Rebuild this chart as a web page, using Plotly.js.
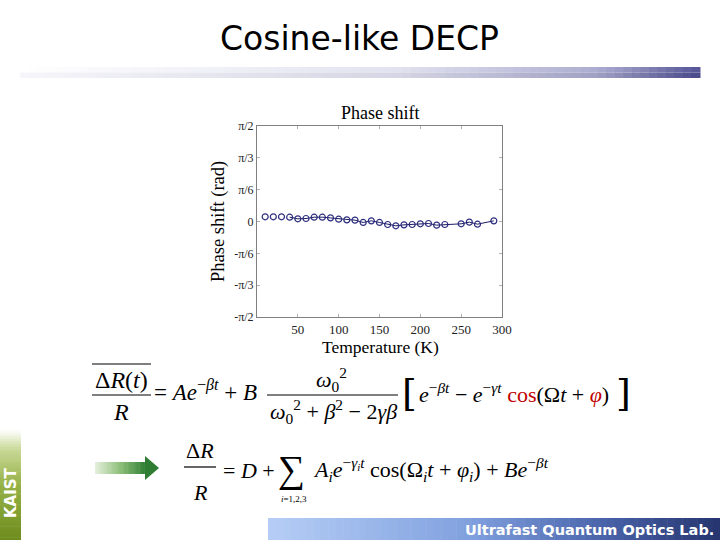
<!DOCTYPE html>
<html><head><meta charset="utf-8">
<script src="https://cdn.plot.ly/plotly-3.0.1.min.js"></script>
<style>html,body{margin:0;padding:0;background:#fff;}#chart{width:720px;height:540px;}</style>
</head><body><div id="chart"></div>
<script>
// ---- data ----
const temperatures = [10,20,30,40,50,60,70,80,90,100,110,120,130,140,150,160,170,180,190,200,210,220,230,250,260,270,290];
const phaseShift = [0.077,0.077,0.077,0.071,0.044,0.049,0.071,0.071,0.060,0.038,0.027,0.022,-0.016,0.011,-0.016,-0.049,-0.071,-0.055,-0.049,-0.038,-0.033,-0.060,-0.049,-0.038,-0.011,-0.044,0.011];
const lineTemperatures = [40,50,60,70,80,90,100,110,120,130,140,150,160,170,180,190,200,210,220,230,250,260,270,290];
const linePhaseShift = [0.071,0.044,0.049,0.071,0.071,0.060,0.038,0.027,0.022,-0.016,0.011,-0.016,-0.049,-0.071,-0.055,-0.049,-0.038,-0.033,-0.060,-0.049,-0.038,-0.011,-0.044,0.011];
const xTickValues = [50,100,150,200,250,300];
const xTickLabels = ['50','100','150','200','250','300'];
const yTickLabels = ['-π/2','-π/3','-π/6','0','π/6','π/3','π/2'];
const yTickValues = [-3,-2,-1,0,1,2,3].map(k => k*Math.PI/6);

// ---- geometry (pixels) ----
const L = 257, R = 502, T = 126, B = 317;
const W = R - L, H = B - T;
const X = p => (p - L) / W;
const Y = p => (B - p) / H;

const shapes = [];
const annotations = [];
function lerp(a,b,t){return Math.round(a+(b-a)*t);}
function grad(stops, t){
  for (let i=1;i<stops.length;i++){
    if (t <= stops[i][0]){
      const s0=stops[i-1], s1=stops[i];
      const u=(t-s0[0])/(s1[0]-s0[0]);
      return 'rgb('+lerp(s0[1][0],s1[1][0],u)+','+lerp(s0[1][1],s1[1][1],u)+','+lerp(s0[1][2],s1[1][2],u)+')';
    }
  }
  const s=stops[stops.length-1][1]; return 'rgb('+s.join(',')+')';
}
function rect(x0,y0,x1,y1,color){
  shapes.push({type:'rect',xref:'paper',yref:'paper',x0:X(x0),x1:X(x1),y0:Y(y1),y1:Y(y0),fillcolor:color,line:{width:0},layer:'below'});
}
function hline(x0,x1,y,color,w){
  shapes.push({type:'line',xref:'paper',yref:'paper',x0:X(x0),x1:X(x1),y0:Y(y),y1:Y(y),line:{color:color||'#000',width:w||1.2}});
}
function text(t,x,y,opt){
  opt = opt||{};
  annotations.push({text:t,xref:'paper',yref:'paper',x:X(x),y:Y(y),showarrow:false,
    xanchor:opt.xa||'center',yanchor:opt.ya||'middle',textangle:opt.angle||0,
    font:{family:opt.family||'Liberation Serif, serif',size:opt.size||20,color:opt.color||'#000',weight:opt.weight||'normal'}});
}

// title bar gradient
const barStops = [[0,[246,246,250]],[0.55,[214,214,228]],[0.85,[160,160,196]],[1,[72,72,138]]];
const barN = 80;
for (let i=0;i<barN;i++){
  const x0 = 20 + (700-20)*i/barN, x1 = 20 + (700-20)*(i+1)/barN + 0.5;
  const t = (i+0.5)/barN;
  rect(x0,67,x1,72.5,grad(barStops.map(s=>[s[0],s[1].map(v=>Math.min(255,v+12))]),t));
  rect(x0,72.5,x1,78,grad(barStops,t));
}
// footer gradient
const footStops = [[0,[182,206,246]],[0.45,[128,160,222]],[0.75,[72,98,168]],[1,[38,52,110]]];
const footN = 60;
for (let i=0;i<footN;i++){
  const x0 = 268 + (720-268)*i/footN, x1 = 268 + (720-268)*(i+1)/footN + 0.5;
  rect(x0,518,x1,540,grad(footStops,(i+0.5)/footN));
}
// KAIST side gradient
const sideStops = [[0,[255,255,255]],[0.18,[200,216,150]],[0.5,[150,178,70]],[1,[110,140,30]]];
const sideN = 40;
for (let i=0;i<sideN;i++){
  const y0 = 430 + (540-430)*i/sideN, y1 = 430 + (540-430)*(i+1)/sideN + 0.5;
  rect(0,y0,21,y1,grad(sideStops,(i+0.5)/sideN));
}
// green arrow
const arrowStops = [[0,[230,240,222]],[0.5,[140,190,120]],[1,[46,125,50]]];
const arrN = 30;
for (let i=0;i<arrN;i++){
  const x0 = 95 + (146-95)*i/arrN, x1 = 95 + (146-95)*(i+1)/arrN + 0.5;
  rect(x0,462,x1,474,grad(arrowStops,(i+0.5)/arrN));
}
shapes.push({type:'path',xref:'paper',yref:'paper',
  path:'M '+X(145)+' '+Y(456)+' L '+X(159)+' '+Y(468)+' L '+X(145)+' '+Y(480)+' Z',
  fillcolor:'rgb(46,125,50)',line:{width:0}});

// slide title
text('Cosine-like DECP',359,39,{family:'DejaVu Sans, sans-serif',size:33});
// footer text & KAIST
text('Ultrafast Quantum Optics Lab.',716,530,{family:'DejaVu Sans, sans-serif',size:14.5,color:'#fff',weight:'bold',xa:'right'});
text('KAIST',11,493,{family:'DejaVu Sans, sans-serif',size:15,color:'#fff',weight:'bold',angle:-90});

// chart texts
text('Phase shift',380,113,{size:18});
text('Phase shift (rad)',218,222,{size:18.5,angle:-90});
text('Temperature (K)',380,347,{size:17.5});

// equation 1
const red = '#c00000';
hline(92,151,364,'#000',1.2);
text('Δ<i>R</i>(<i>t</i>)',121,380,{size:24});
hline(92,151,395,'#000',1.2);
text('<i>R</i>',121,412,{size:24});
text('= <i>Ae</i><sup>−<i>βt</i></sup> + <i>B</i>',152,390,{size:23,xa:'left'});
text('<i>ω</i><sub>0</sub><sup>2</sup>',331,379,{size:22});
hline(267,398,395,'#000',1.2);
text('<i>ω</i><sub>0</sub><sup>2</sup> + <i>β</i><sup>2</sup> − 2<i>γβ</i>',333,411,{size:22});
text('[',409,393,{size:38,family:'DejaVu Serif, serif'});
text('<i>e</i><sup>−<i>βt</i></sup> − <i>e</i><sup>−<i>γt</i></sup> <span style="color:'+red+'">cos</span>(Ω<i>t</i> + <span style="color:'+red+'"><i>φ</i></span>)',417,393,{size:22,xa:'left'});
text(']',623,393,{size:38,family:'DejaVu Serif, serif'});

// equation 2
text('Δ<i>R</i>',200,450,{size:22});
hline(184,216,467,'#000',1.2);
text('<i>R</i>',200,492,{size:22});
text('= <i>D</i> +',221,470,{size:22,xa:'left'});
text('∑',291,469,{size:38});
text('<i>i</i>=1,2,3',294,499,{size:9});
text('<i>A</i><sub><i>i</i></sub><i>e</i><sup>−<i>γ<sub>i</sub>t</i></sup> cos(Ω<sub><i>i</i></sub><i>t</i> + <i>φ</i><sub><i>i</i></sub>) + <i>Be</i><sup>−<i>βt</i></sup>',311,469,{size:22,xa:'left'});

const traces = [
  {x: lineTemperatures, y: linePhaseShift, type:'scatter', mode:'lines',
   line:{color:'#1c1c60',width:1}, hoverinfo:'skip', showlegend:false},
  {x: temperatures, y: phaseShift, type:'scatter', mode:'markers',
   marker:{symbol:'circle-open',size:6,color:'#2e2e80',line:{width:1.2,color:'#2e2e80'}}, showlegend:false}
];

const axisCommon = {showgrid:false,zeroline:false,showline:true,linecolor:'#808080',linewidth:1,mirror:'ticks',
  ticks:'inside',ticklen:3,tickcolor:'#b0b0b0',tickfont:{family:'Liberation Serif, serif',size:13,color:'#222'}};

const layout = {
  width:720,height:540,paper_bgcolor:'#fff',plot_bgcolor:'#fff',
  margin:{l:L,r:720-R,t:T,b:540-B,pad:0},
  xaxis:Object.assign({},axisCommon,{range:[0,300],tickvals:xTickValues,ticktext:xTickLabels}),
  yaxis:Object.assign({},axisCommon,{range:[-Math.PI/2,Math.PI/2],tickvals:yTickValues,ticktext:yTickLabels,tickfont:{family:'Liberation Serif, serif',size:12,color:'#222'}}),
  shapes:shapes, annotations:annotations, showlegend:false
};
Plotly.newPlot('chart',traces,layout,{displayModeBar:false,staticPlot:true});
</script></body></html>
